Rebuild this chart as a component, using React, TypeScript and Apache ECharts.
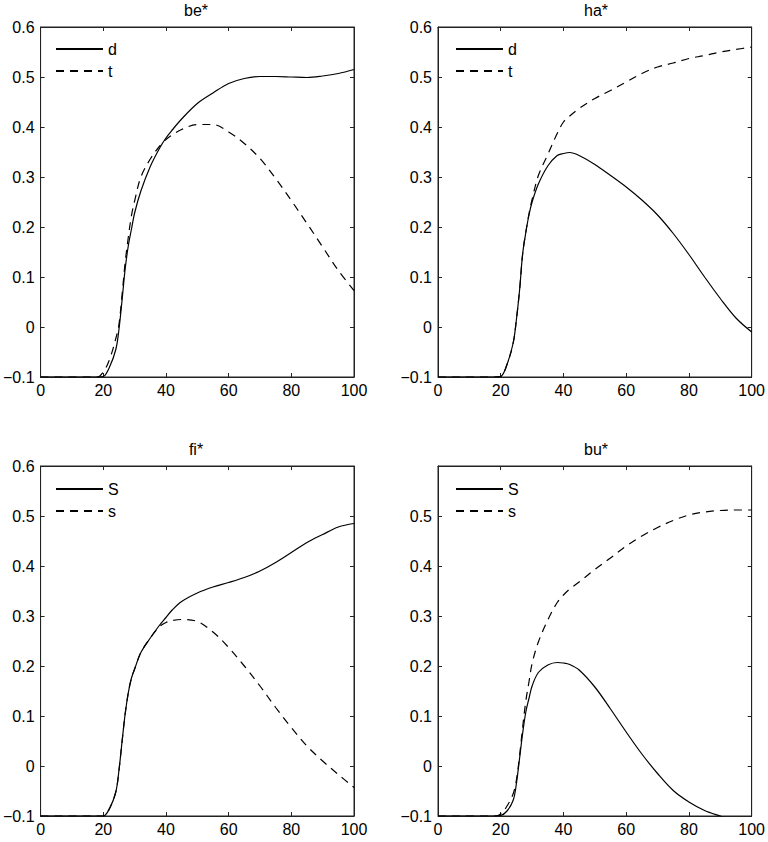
import React, { useEffect, useRef } from "react";
import * as echarts from "echarts";

const xs = [0, 18, 20, 22, 24, 25, 26, 27, 28, 29, 30, 32, 35, 38, 40, 42, 45, 50, 55, 60, 65, 70, 75, 80, 85, 90, 95, 100];

const beD = [-0.1, -0.1, -0.099, -0.08, -0.045, -0.005, 0.054, 0.117, 0.163, 0.196, 0.228, 0.272, 0.321, 0.358, 0.378, 0.394, 0.416, 0.447, 0.468, 0.487, 0.497, 0.501, 0.501, 0.5, 0.499, 0.502, 0.507, 0.515];
const beT = [-0.1, -0.1, -0.09, -0.065, -0.023, 0.005, 0.065, 0.13, 0.18, 0.223, 0.252, 0.3, 0.336, 0.362, 0.375, 0.384, 0.395, 0.405, 0.405, 0.39, 0.367, 0.337, 0.297, 0.253, 0.207, 0.16, 0.113, 0.073];

const haD = [-0.1, -0.1, -0.099, -0.075, -0.031, 0.015, 0.073, 0.147, 0.189, 0.224, 0.25, 0.286, 0.322, 0.343, 0.347, 0.349, 0.343, 0.325, 0.303, 0.28, 0.254, 0.224, 0.187, 0.145, 0.1, 0.057, 0.018, -0.01];
const haT = [-0.1, -0.1, -0.099, -0.075, -0.031, 0.015, 0.073, 0.147, 0.19, 0.226, 0.255, 0.303, 0.345, 0.387, 0.41, 0.422, 0.437, 0.457, 0.473, 0.49, 0.507, 0.52, 0.528, 0.537, 0.543, 0.55, 0.555, 0.56];

const fiS = [-0.1, -0.1, -0.1, -0.085, -0.052, -0.009, 0.049, 0.105, 0.147, 0.176, 0.194, 0.227, 0.256, 0.282, 0.297, 0.312, 0.329, 0.346, 0.358, 0.367, 0.377, 0.39, 0.407, 0.427, 0.447, 0.463, 0.478, 0.485];
const fiSmall = [-0.1, -0.1, -0.1, -0.085, -0.052, -0.009, 0.049, 0.105, 0.147, 0.176, 0.194, 0.227, 0.256, 0.279, 0.287, 0.291, 0.293, 0.289, 0.268, 0.237, 0.2, 0.16, 0.117, 0.077, 0.04, 0.01, -0.017, -0.043];

const buS = [-0.1, -0.1, -0.099, -0.09, -0.068, -0.035, 0.015, 0.066, 0.108, 0.135, 0.16, 0.187, 0.202, 0.207, 0.206, 0.203, 0.192, 0.158, 0.114, 0.068, 0.024, -0.015, -0.049, -0.072, -0.089, -0.1, -0.11, -0.118];
const buSmall = [-0.1, -0.1, -0.096, -0.08, -0.055, -0.028, 0.02, 0.078, 0.13, 0.168, 0.205, 0.248, 0.292, 0.327, 0.342, 0.354, 0.368, 0.393, 0.416, 0.44, 0.46, 0.477, 0.491, 0.502, 0.508, 0.511, 0.512, 0.512];

const titles = ["be*", "ha*", "fi*", "bu*"];
const legendNames = [["d", "t"], ["d", "t"], ["S", "s"], ["S", "s"]];
const panelData = [[beD, beT], [haD, haT], [fiS, fiSmall], [buS, buSmall]];

const FONT = "'Liberation Sans', Arial, Helvetica, sans-serif";

export default function App() {
  const ref = useRef<HTMLDivElement>(null);
  useEffect(() => {
    if (!ref.current) return;
    const chart = echarts.init(ref.current, undefined, { renderer: "svg" });
    const grids = [
      { left: 38, top: 27, width: 316, height: 350 },
      { left: 438, top: 27, width: 316, height: 350 },
      { left: 38, top: 466, width: 316, height: 350 },
      { left: 438, top: 466, width: 316, height: 350 },
    ];
    const labelStyle = { color: "#000", fontSize: 16, fontFamily: FONT };
    const yFmt = (v: number) => {
      if (Math.abs(v) < 1e-9) return "0";
      const s = Math.abs(v).toFixed(1);
      return v < 0 ? "\u2212" + s : s;
    };
    const tick = { show: true, inside: true, length: 4, lineStyle: { color: "#222", width: 1 } };
    const line = { show: true, onZero: false, lineStyle: { color: "#222", width: 1 } };
    const xAxis: any[] = [];
    const yAxis: any[] = [];
    grids.forEach((g, i) => {
      xAxis.push({
        type: "value", gridIndex: i, min: 0, max: 100, interval: 20, position: "bottom",
        axisLine: line,
        axisTick: tick,
        axisLabel: { ...labelStyle, margin: 5 },
        splitLine: { show: false },
      });
      yAxis.push({
        type: "value", gridIndex: i, min: -0.1, max: 0.6, interval: 0.1, position: "left",
        axisLine: line,
        axisTick: tick,
        axisLabel: { ...labelStyle, margin: 6, formatter: yFmt, showMaxLabel: i !== 3 },
        splitLine: { show: false },
      });
    });
    grids.forEach((g, i) => {
      xAxis.push({
        type: "value", gridIndex: i, min: 0, max: 100, interval: 20, position: "top",
        axisLine: line,
        axisTick: tick,
        axisLabel: { show: false },
        splitLine: { show: false },
      });
      yAxis.push({
        type: "value", gridIndex: i, min: -0.1, max: 0.6, interval: 0.1, position: "right",
        axisLine: line,
        axisTick: tick,
        axisLabel: { show: false },
        splitLine: { show: false },
      });
    });
    const series: any[] = [];
    panelData.forEach((pair, i) => {
      pair.forEach((vals, j) => {
        series.push({
          type: "line",
          name: legendNames[i][j],
          xAxisIndex: i,
          yAxisIndex: i,
          data: xs.map((x, k) => [x, vals[k]]),
          symbol: "none",
          smooth: 0.35,
          clip: true,
          lineStyle: { color: "#000", width: 1.2, type: j === 0 ? "solid" : [8, 6] },
          itemStyle: { color: "#000" },
          z: 3,
        });
      });
    });
    const legendPos = [
      { left: 55, top: 41 },
      { left: 455, top: 41 },
      { left: 55, top: 481 },
      { left: 455, top: 481 },
    ];
    const legend = legendPos.map((p, i) => ({
      ...p,
      orient: "vertical",
      data: legendNames[i],
      itemWidth: 47,
      itemHeight: 14,
      itemGap: 6,
      padding: 0,
      selectedMode: false,
      itemStyle: { opacity: 0 },
      textStyle: { color: "#000", fontSize: 16, fontFamily: FONT },
    }));
    const titlePos = [
      [196, 10],
      [596, 10],
      [196, 449],
      [596, 449],
    ];
    const graphic = titles.map((t, i) => ({
      type: "text",
      x: titlePos[i][0],
      y: titlePos[i][1],
      style: {
        text: t,
        textAlign: "center",
        textVerticalAlign: "middle",
        font: `16px ${FONT}`,
        fill: "#000",
      },
    }));
    chart.setOption({
      animation: false,
      backgroundColor: "#fff",
      grid: grids.map((g) => ({ ...g, show: true, borderColor: "#222", borderWidth: 1, backgroundColor: "transparent" })),
      xAxis,
      yAxis,
      series,
      legend,
      graphic,
    });
    return () => chart.dispose();
  }, []);
  return (
    <div
      ref={ref}
      style={{ position: "absolute", left: 0, top: 0, width: 768, height: 842 }}
    />
  );
}
